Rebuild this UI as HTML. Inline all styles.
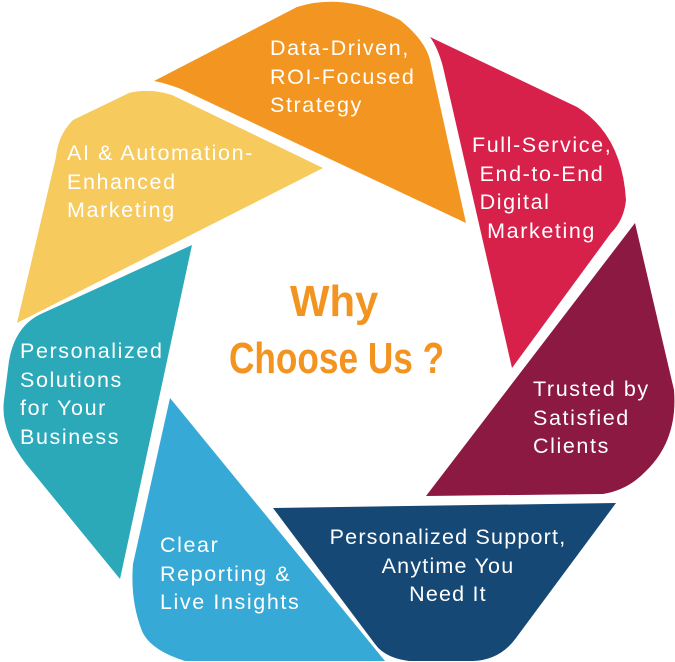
<!DOCTYPE html>
<html><head><meta charset="utf-8"><style>
body{margin:0;width:675px;height:662px;background:#fff;overflow:hidden;position:relative;font-family:"Liberation Sans",sans-serif}
svg{position:absolute;left:0;top:0}
.t{position:absolute;color:#fff;font-size:21.5px;line-height:28.7px;white-space:nowrap;letter-spacing:1.6px}
.w{position:absolute;color:#f39420;font-weight:bold;font-size:44px;white-space:nowrap;transform:scaleX(0.8);transform-origin:left top}
</style></head><body>
<svg width="675" height="662" viewBox="0 0 675 662">
<g stroke-linejoin="round">
<path d="M154,81 L297,7 Q344,-8 400,20 Q425,40 430,60 L466,223 L181,89 Q165,83 154,81Z" fill="#f39621"/>
<path d="M430,37 L577,107 Q622,135 626,200 Q624,220 611,233 L512,368 L443,67 Q438,48 430,37Z" fill="#d7214a"/>
<path d="M635,223 L674,390 Q678,440 646,471 Q628,490 603,494 L426,496 Z" fill="#8b1942"/>
<path d="M273,508 L616,503 L516,638 Q500,660 473,661 L409,661 Q385,658 375,644 Z" fill="#154875"/>
<path d="M170,398 L385,661 L185,661 Q150,650 142,631 Q130,600 133,564 Z" fill="#36a9d7"/>
<path d="M192,245 L120,579 L26,464 Q0,430 4,400 L9,361 Q15,325 43,313 Z" fill="#2ba9b9"/>
<path d="M323,168 L172,95 Q150,88 129,93 L73,120 Q58,135 56,157 L17,323 Z" fill="#f6ca5c"/>
</g>
</svg>
<div class="t" style="left:270px;top:34px">Data-Driven,<br>ROI-Focused<br>Strategy</div>
<div class="t" style="left:472px;top:131px">Full-Service,<br>&nbsp;End-to-End<br>&nbsp;Digital<br>&nbsp;&nbsp;Marketing</div>
<div class="t" style="left:67px;top:139px">AI &amp; Automation-<br>Enhanced<br>Marketing</div>
<div class="t" style="left:20px;top:337px">Personalized<br>Solutions<br>for Your<br>Business</div>
<div class="t" style="left:533px;top:375px">Trusted by<br>Satisfied<br>Clients</div>
<div class="t" style="left:300px;top:523px;width:296px;text-align:center;letter-spacing:1.2px">Personalized Support,<br>Anytime You<br>Need It</div>
<div class="t" style="left:160px;top:531px">Clear<br>Reporting &amp;<br>Live Insights</div>
<div class="w" style="left:290px;top:277px;transform:scaleX(0.95)">Why</div>
<div class="w" style="left:229px;top:334px">Choose Us ?</div>
</body></html>
